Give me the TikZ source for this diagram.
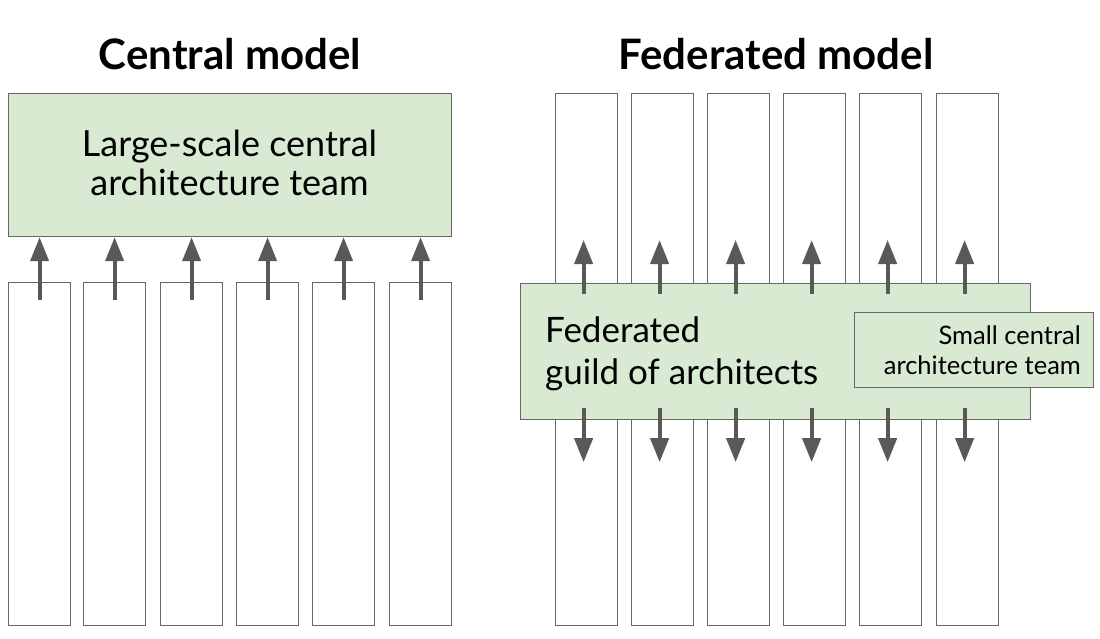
\documentclass[tikz,border=0pt]{standalone}
\usepackage{fontspec}
\setmainfont{Lato}
\usetikzlibrary{arrows.meta,calc}
\definecolor{gfill}{HTML}{D9EAD3}
\definecolor{edge}{HTML}{666666}
\definecolor{arr}{HTML}{595959}
\begin{document}
\begin{tikzpicture}[x=1pt,y=-1pt,
  col/.style={draw=edge,line width=1.2pt,fill=white,anchor=north west,inner sep=0pt,minimum width=62pt,minimum height=#1},
  gbox/.style={draw=edge,line width=1.2pt,fill=gfill,anchor=north west,inner sep=0pt},
  arrw/.style={draw=arr,line width=4pt,-{Triangle[length=24pt,width=18pt]}},
  ttl/.style={font=\fontsize{42}{46}\selectfont\bfseries},
  lbl/.style={font=\fontsize{36}{39}\selectfont,inner sep=0pt},
  glbl/.style={font=\fontsize{35}{42}\selectfont,inner sep=0pt},
  slbl/.style={font=\fontsize{25.5}{30}\selectfont,inner sep=0pt}]
\useasboundingbox (0,0) rectangle (1100,639);
% titles
\node[ttl] (t1) at (230,54) {Central model};
\node[ttl] (t2) at (776,54) {Federated model};
% left model
\node[gbox,minimum width=443pt,minimum height=143pt] (big) at (8,93) {};
\node[lbl,align=center] (bigt) at (229.5,163) {Large-scale central\\architecture team};
\foreach \x/\i in {8/1,83/2,160/3,236/4,312/5,389/6}{
  \node[col=343pt] (c\i) at (\x,282) {};
}
\foreach \i in {1,...,6}{
  \draw[arrw] ([yshift=-18pt]c\i.north) -- (c\i.north |- big.south);
}
% right model
\foreach \x/\i in {555/1,631/2,707/3,783/4,859/5,936/6}{
  \node[col=532pt] (r\i) at (\x,93) {};
}
\node[gbox,minimum width=510pt,minimum height=136pt] (guild) at (520,283) {};
\node[gbox,minimum width=239pt,minimum height=75pt] (small) at (854,312) {};
\node[glbl,align=left,anchor=north west] (guildt) at (545,317) {Federated\\guild of architects};
\node[slbl,align=right,anchor=north east] (smallt) at (1081,326) {Small central\\architecture team};
\foreach \i in {1,...,6}{
  \draw[arrw] ([xshift=-3pt,yshift=-11pt]r\i.center |- guild.north) -- ([xshift=-3pt,yshift=43pt]r\i.center |- guild.north);
  \draw[arrw] ([xshift=-3pt,yshift=12pt]r\i.center |- guild.south) -- ([xshift=-3pt,yshift=-42pt]r\i.center |- guild.south);
}
\end{tikzpicture}
\end{document}
